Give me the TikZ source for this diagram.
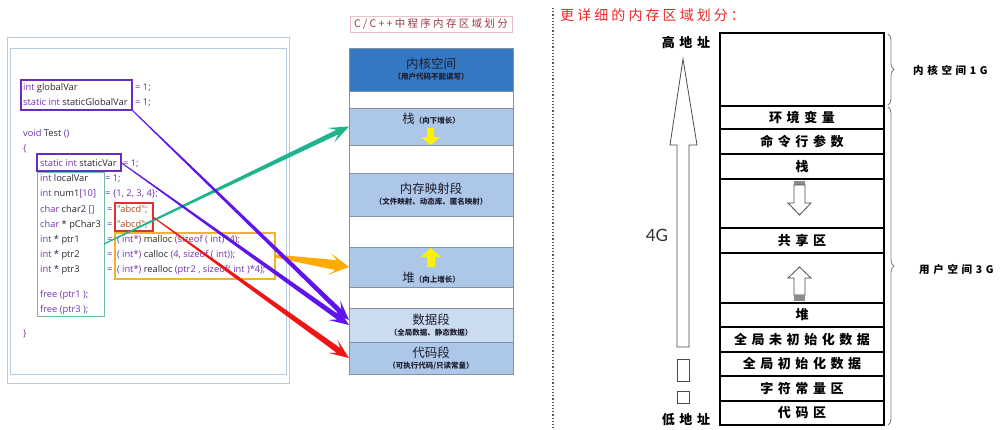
\documentclass[tikz,border=0pt]{standalone}
\usepackage{fontspec}
\newfontfamily\codefont{Open Sans}
\newfontfamily\cjk{Noto Sans CJK SC}
\newfontfamily\cjkwide[LetterSpace=35]{Noto Sans CJK SC}
\newfontfamily\cjktitle[LetterSpace=22]{Noto Sans CJK SC}
\newfontfamily\latinsans{Lato}
\usepackage{tikz}
\usetikzlibrary{calc}
\usetikzlibrary{decorations, decorations.pathreplacing}
\tikzset{>=latex}

\definecolor{kwpurple}{RGB}{115,50,175}
\definecolor{idgray}{RGB}{40,40,50}
\definecolor{strbrown}{RGB}{170,80,40}
\definecolor{framegray}{RGB}{185,202,218}
\definecolor{boxpurple}{RGB}{105,45,190}
\definecolor{boxgreen}{RGB}{110,190,160}
\definecolor{boxred}{RGB}{220,50,50}
\definecolor{boxyellow}{RGB}{240,180,40}
\definecolor{kernblue}{RGB}{52,120,196}
\definecolor{segblue}{RGB}{172,199,232}
\definecolor{datablue}{RGB}{203,220,241}
\definecolor{segline}{RGB}{130,145,165}
\definecolor{segtext}{RGB}{30,30,45}
\definecolor{titlered}{RGB}{150,60,70}
\definecolor{titlepink}{RGB}{235,190,200}
\definecolor{arrowpurple}{RGB}{95,20,235}
\definecolor{arrowgreen}{RGB}{30,180,140}
\definecolor{arroworange}{RGB}{255,170,0}
\definecolor{arrowred}{RGB}{240,20,20}
\definecolor{growyellow}{RGB}{255,240,0}
\definecolor{notered}{RGB}{235,40,40}
\definecolor{bracegray}{RGB}{130,130,130}

\newcommand{\kw}[1]{\textcolor{kwpurple}{#1}}
\newcommand{\str}[1]{\textcolor{strbrown}{#1}}
\newcommand{\segbig}{\cjk\fontsize{12.5}{16}\selectfont}
\newcommand{\segsmall}{\cjk\bfseries\fontsize{7.5}{9}\selectfont}

% wedge shaped arrow: start, tip, colour, start half width, shaft half width, wing half width
\newcommand{\wedgearrow}[6]{%
  \coordinate (wj) at ($(#2)!13pt!(#1)$);
  \coordinate (ww) at ($(#2)!20pt!(#1)$);
  \fill[#3] ($(#1)!#4!90:(#2)$) -- ($(wj)!#5!90:(#2)$) -- ($(ww)!#6!90:(#2)$) -- (#2)
    -- ($(ww)!#6!-90:(#2)$) -- ($(wj)!#5!-90:(#2)$) -- ($(#1)!#4!-90:(#2)$) -- cycle;}

\tikzset{
  code/.style={anchor=base west, inner sep=0pt, font=\codefont\fontsize{9.3}{11}\selectfont, text=idgray},
  codebox/.style={draw=#1, line width=1.1pt, inner sep=0pt, outer sep=0pt},
  seg/.style={draw=segline, line width=0.6pt, anchor=north west, minimum width=164pt,
    inner sep=0pt, outer sep=0pt, align=center, text=segtext},
  row/.style={draw=black, line width=1.6pt, anchor=north west, minimum width=164pt,
    inner sep=0pt, outer sep=0pt, font=\cjkwide\bfseries\fontsize{13}{15}\selectfont},
  hollow/.style={draw=black!70, line width=0.8pt, fill=white},
}

\begin{document}
\begin{tikzpicture}[x=1pt, y=-1pt]
  \fill[white] (0,0) rectangle (1000,429);
  \useasboundingbox (0,0) rectangle (1000,429);

  % code panel
  \draw[framegray, line width=1pt] (7,37) rectangle (289,383);
  \draw[framegray, line width=1pt] (10,48) rectangle (286,374);

  \node[code] (l1) at (23,90.5) {\kw{int} globalVar};
  \node[code] (l1r) at (135,90.5) {\kw{= 1;}};
  \node[code] (l2) at (23,105.5) {\kw{static int} staticGlobalVar};
  \node[code] (l2r) at (135,105.5) {\kw{= 1;}};
  \node[code] (l3) at (23,136.5) {\kw{void} Test \kw{()}};
  \node[code] (l4) at (23,151.5) {\kw{\{}};
  \node[code] (l5) at (40,166.5) {\kw{static int} staticVar};
  \node[code] (l5r) at (123,166.5) {\kw{= 1;}};
  \node[code] (l6) at (40,181.5) {\kw{int} localVar};
  \node[code] (l6r) at (105,181.5) {\kw{= 1;}};
  \node[code] (l7) at (40,196.5) {\kw{int} num1\kw{[10]}};
  \node[code] (l7r) at (105,196.5) {\kw{= \{1, 2, 3, 4\};}};
  \node[code] (l8) at (40,212) {\kw{char} char2 \kw{[]}};
  \node[code] (l8r) at (107,212) {\kw{=}\hspace{4.5pt}\str{"abcd";}};
  \node[code] (l9) at (40,227) {\kw{char} * pChar3};
  \node[code] (l9r) at (107,227) {\kw{=}\hspace{4.5pt}\str{"abcd";}};
  \node[code] (l10) at (40,242) {\kw{int} * ptr1};
  \node[code] (l10r) at (107,242) {\kw{=}\hspace{4.5pt}\kw{( int*)} malloc \kw{(sizeof ( int)*4);}};
  \node[code] (l11) at (40,257) {\kw{int} * ptr2};
  \node[code] (l11r) at (107,257) {\kw{=}\hspace{4.5pt}\kw{( int*)} calloc \kw{(4, sizeof ( int));}};
  \node[code] (l12) at (40,272) {\kw{int} * ptr3};
  \node[code] (l12r) at (107,272) {\kw{=}\hspace{4.5pt}\kw{( int*)} realloc \kw{(ptr2 , sizeof( int )*4);}};
  \node[code] (l13) at (40,297) {\kw{free (ptr1 );}};
  \node[code] (l14) at (40,312) {\kw{free (ptr3 );}};
  \node[code] (l15) at (23,336) {\kw{\}}};

  \node[codebox=boxpurple, minimum width=111pt, minimum height=30pt] (globalbox) at (76.5,95) {};
  \node[codebox=boxpurple, minimum width=84pt, minimum height=17pt] (staticbox) at (79,162.5) {};
  \node[codebox=boxgreen, line width=1pt, minimum width=67pt, minimum height=144pt] (localbox) at (70.5,244) {};
  \node[codebox=boxred, minimum width=38pt, minimum height=28pt] (strbox) at (134,217) {};
  \node[codebox=boxyellow, line width=1.1pt, minimum width=160pt, minimum height=46pt] (heapbox) at (195,256) {};

  % memory layout
  \node[draw=titlepink, line width=0.8pt, minimum width=162pt, minimum height=16pt, inner sep=0pt,
    text=titlered, font=\cjktitle\fontsize{10.5}{12}\selectfont] (title) at (431,24) {C/C++中程序内存区域划分};

  \node[seg, fill=kernblue, minimum height=43pt] (kern) at (349,48)
    {{\segbig 内核空间}\\[-1pt]{\segsmall （用户代码不能读写）}};
  \node[seg, fill=white, minimum height=17pt] (gapa) at (349,91) {};
  \node[seg, fill=segblue, minimum height=37pt] (stack) at (349,108) {};
  \node[seg, fill=white, minimum height=28pt] (gapb) at (349,145) {};
  \node[seg, fill=segblue, minimum height=43pt] (mmap) at (349,173)
    {{\segbig 内存映射段}\\[-1pt]{\segsmall （文件映射、动态库、匿名映射）}};
  \node[seg, fill=white, minimum height=31pt] (gapc) at (349,216) {};
  \node[seg, fill=segblue, minimum height=40pt] (heap) at (349,247) {};
  \node[seg, fill=white, minimum height=21pt] (gapd) at (349,287) {};
  \node[seg, fill=datablue, minimum height=34pt] (data) at (349,308)
    {{\segbig 数据段}\\[-1pt]{\segsmall （全局数据、静态数据）}};
  \node[seg, fill=segblue, minimum height=32pt] (text) at (349,342)
    {{\segbig 代码段}\\[-1pt]{\segsmall （可执行代码/只读常量）}};

  \node[text=segtext, inner sep=0pt] (stacklabel) at (431,119) {{\segbig 栈}{\segsmall （向下增长）}};
  \node[text=segtext, inner sep=0pt] (heaplabel) at (431,278) {{\segbig 堆}{\segsmall （向上增长）}};
  \fill[growyellow] (427,128) -- (434,128) -- (434,137) -- (440,137) -- (430.5,145) -- (421,137) -- (427,137) -- cycle;
  \fill[growyellow] (430.5,248) -- (441,257) -- (435,257) -- (435,267) -- (427,267) -- (427,257) -- (421,257) -- cycle;

  % arrows from code to segments
  \coordinate (datatip) at ($(data.west)+(0,-5)$);
  \wedgearrow{localbox.east}{stack.west}{arrowgreen}{0.6pt}{2.5pt}{8pt}
  \wedgearrow{heapbox.east}{heap.west}{arroworange}{1.5pt}{5pt}{11pt}
  \wedgearrow{strbox.east}{text.west}{arrowred}{0.5pt}{3pt}{8pt}
  \wedgearrow{globalbox.south east}{datatip}{arrowpurple}{0.5pt}{2.5pt}{8pt}
  \wedgearrow{staticbox.east}{data.west}{arrowpurple}{0.5pt}{2.5pt}{8pt}

  % separator
  \draw[dotted, line width=1.2pt, black!65] (553,8) -- (553,429);
  \node[anchor=west, inner sep=0pt, text=notered, font=\cjktitle\fontsize{14}{16}\selectfont] (note) at (560,15) {更详细的内存区域划分：};

  % detailed layout
  \node[row, minimum height=73pt] (kern2) at (720,33) {};
  \node[row, minimum height=23pt] (env) at (720,106) {环境变量};
  \node[row, minimum height=25pt] (args) at (720,129) {命令行参数};
  \node[row, minimum height=25pt] (stack2) at (720,154) {栈};
  \node[row, minimum height=49pt] (gap1) at (720,179) {};
  \node[row, minimum height=25pt] (shared) at (720,228) {共享区};
  \node[row, minimum height=50pt] (gap2) at (720,253) {};
  \node[row, minimum height=24pt] (heap2) at (720,303) {堆};
  \node[row, minimum height=25pt] (bss) at (720,327) {全局未初始化数据};
  \node[row, minimum height=24pt] (data2) at (720,352) {全局初始化数据};
  \node[row, minimum height=25pt] (rodata) at (720,376) {字符常量区};
  \node[row, minimum height=24pt] (text2) at (720,401) {代码区};

  \fill[black!45] (794,181) rectangle (805,185);
  \draw[hollow] (794,185) -- (805,185) -- (805,203) -- (811,203) -- (799.5,215) -- (788,203) -- (794,203) -- cycle;
  \draw[hollow] (799.5,267) -- (811,278) -- (805,278) -- (805,295) -- (794,295) -- (794,278) -- (788,278) -- cycle;
  \fill[black!45] (794,295) rectangle (805,301);

  % address arrow
  \draw[hollow] (683,59) -- (697,145) -- (689,145) -- (689,347) -- (677,347) -- (677,145) -- (670,145) -- cycle;
  \draw[hollow] (677,359) rectangle (689,381);
  \draw[hollow] (677,391) rectangle (689,403);
  \node[font=\cjkwide\bfseries\fontsize{13}{15}\selectfont, inner sep=0pt] (high) at (686,42) {高地址};
  \node[font=\cjkwide\bfseries\fontsize{13}{15}\selectfont, inner sep=0pt] (low) at (686,420) {低地址};
  \node[font=\latinsans\fontsize{17}{19}\selectfont, text=black!80, inner sep=0pt] (size) at (657,235) {4G};

  % braces
  \coordinate (kbtop) at ($(kern2.north east)+(4,1)$);
  \coordinate (kbbot) at ($(kern2.south east)+(4,-1)$);
  \coordinate (ubtop) at ($(env.north east)+(4,1)$);
  \coordinate (ubbot) at ($(text2.south east)+(4,0)$);
  \draw[bracegray, line width=0.9pt, decorate, decoration={brace, amplitude=6pt}] (kbtop) -- (kbbot);
  \draw[bracegray, line width=0.9pt, decorate, decoration={brace, amplitude=6pt}] (ubtop) -- (ubbot);
  \node[anchor=west, inner sep=0pt, font=\cjkwide\bfseries\fontsize{10.5}{12}\selectfont] (kernlabel) at (913,70) {内核空间1G};
  \node[anchor=west, inner sep=0pt, font=\cjkwide\bfseries\fontsize{10.5}{12}\selectfont] (userlabel) at (919,269) {用户空间3G};
\end{tikzpicture}
\end{document}
